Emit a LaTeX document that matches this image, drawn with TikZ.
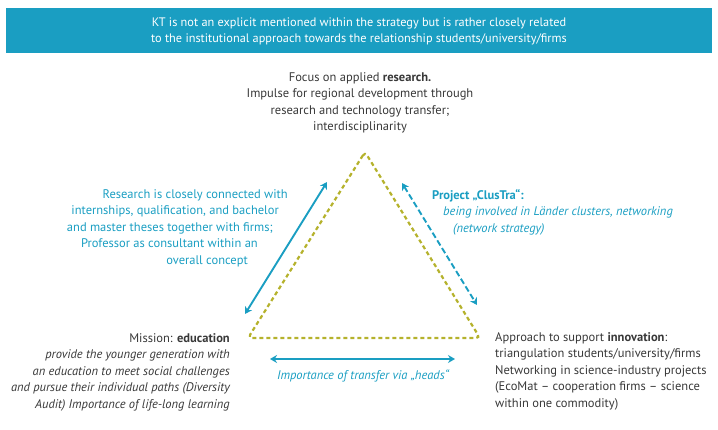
\documentclass[tikz,border=0pt]{standalone}
\usepackage{fontspec}
\setmainfont{PT Sans}
\usetikzlibrary{arrows.meta}
\definecolor{ktblue}{HTML}{1A9EC2}
\definecolor{ktolive}{HTML}{B5B22C}
\definecolor{ktgray}{HTML}{383838}

\begin{document}
\begin{tikzpicture}[x=1pt,y=-1pt,
  txt/.style={text=ktgray,font=\fontsize{12.5}{16.5}\selectfont,inner sep=0pt},
  bluetxt/.style={txt,text=ktblue},
  link/.style={ktblue,line width=1.9pt,{Stealth[length=7pt,width=8pt]}-{Stealth[length=7pt,width=8pt]}},
  ]
\useasboundingbox (0,0) rectangle (718,430);

% Banner on top
\node[fill=ktblue,minimum width=706pt,minimum height=45pt,inner sep=0pt,
  text=white,align=center,font=\fontsize{12.3}{16}\selectfont] (banner) at (359,31)
  {KT is not an explicit mentioned within the strategy but is rather closely related\\
   to the institutional approach towards the relationship students/university/firms};

% Triangle corners
\coordinate (top) at (365,152);
\coordinate (bl) at (248,338);
\coordinate (br) at (480,338);
\draw[ktolive,line width=2.2pt,dash pattern=on 4pt off 3pt,rounded corners=4pt]
  (top) -- (bl) -- (br) -- cycle;

% Corner texts
\node[txt,anchor=north,align=center] (research) at (360,72)
  {Focus on applied \textbf{research.}\\
   Impulse for regional development through\\
   research and technology transfer;\\
   interdisciplinarity};
\node[txt,anchor=north east,align=right] (education) at (230,333)
  {Mission: \textbf{education}\\
   \itshape provide the younger generation with\\
   \itshape an education to meet social challenges\\
   \itshape and pursue their individual paths (Diversity\\
   \itshape Audit) Importance of life-long learning};
\node[txt,anchor=north west,align=left] (innovation) at (495,332)
  {Approach to support \textbf{innovation}:\\
   triangulation students/university/firms\\
   Networking in science-industry projects\\
   (EcoMat – cooperation firms – science\\
   within one commodity)};

% Side texts
\node[bluetxt,anchor=north east,align=right] (links) at (288,189)
  {Research is closely connected with\\
   internships, qualification, and bachelor\rule{9pt}{0pt}\\
   and master theses together with firms;\rule{15pt}{0pt}\\
   Professor as consultant within an\rule{30pt}{0pt}\\
   overall concept\rule{40pt}{0pt}};
\node[bluetxt,anchor=north west,align=left] (clustra) at (432,189)
  {\textbf{Project „ClusTra“:}\\
   \rule{11pt}{0pt}\itshape being involved in Länder clusters, networking\\
   \rule{21pt}{0pt}\itshape (network strategy)};
\node[bluetxt,anchor=north,font=\fontsize{12.5}{16.5}\selectfont\itshape] (heads) at (363,370)
  {Importance of transfer via „heads“};

% Arrows along the sides
\coordinate (la1) at (245,314);
\coordinate (la2) at (327,182);
\coordinate (ra1) at (402,183);
\coordinate (ra2) at (477,305);
\coordinate (ba1) at (270,359);
\coordinate (ba2) at (455,359);
\draw[link] (la1) -- (la2);
\draw[link,dash pattern=on 6pt off 3pt] (ra1) -- (ra2);
\draw[link] (ba1) -- (ba2);

\end{tikzpicture}
\end{document}
